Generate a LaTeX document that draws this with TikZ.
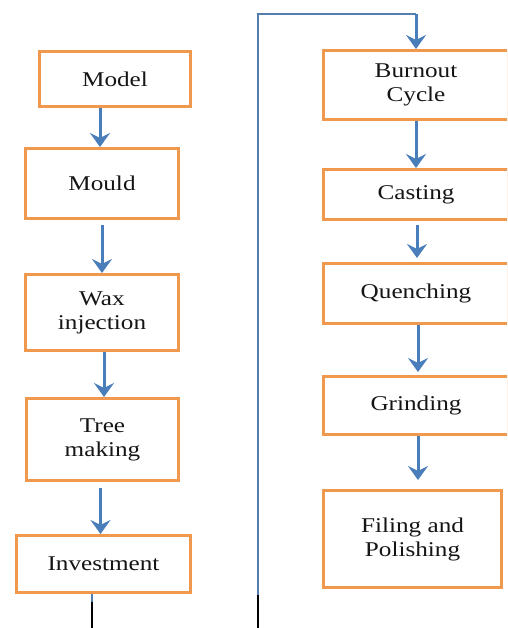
\documentclass[tikz,border=0pt]{standalone}
\usepackage{fontspec}
\setmainfont{Liberation Serif}[FakeStretch=1.2]
\usetikzlibrary{arrows.meta}

\definecolor{boxorange}{HTML}{F0994E}
\definecolor{flowblue}{HTML}{4A7EBB}
\definecolor{textdark}{HTML}{151515}

\tikzset{
  stage/.style={draw=boxorange, line width=3pt, fill=white, text=textdark,
    align=center, inner sep=0pt, font=\fontsize{21}{24}\selectfont},
  flow/.style={draw=flowblue, line width=3pt,
    -{Stealth[length=14pt, width=20pt, inset=5pt]}},
  loopline/.style={draw=flowblue!80!gray, line width=1.5pt}
}

\begin{document}
\begin{tikzpicture}[x=1pt, y=-1pt]
            \useasboundingbox (0,0) rectangle (507,628);
            \clip (0,0) rectangle (507,628);

            % left column
            \node[stage, minimum width=151pt, minimum height=55pt] (model) at (115,79) {Model};
            \node[stage, minimum width=153pt, minimum height=70pt] (mould) at (102,183.5) {Mould};
            \node[stage, minimum width=153pt, minimum height=76pt] (wax) at (102,312.5) {Wax\\injection};
            \node[stage, minimum width=152pt, minimum height=82pt] (tree) at (102.5,439.5) {Tree\\making};
            \node[stage, minimum width=174pt, minimum height=57pt] (invest) at (103.5,564) {Investment};

            % right column
            \node[stage, minimum width=185pt, minimum height=69pt] (burnout) at (416,85) {Burnout\\Cycle};
            \node[stage, minimum width=185pt, minimum height=50pt] (casting) at (416,194.5) {Casting};
            \node[stage, minimum width=185pt, minimum height=60pt] (quench) at (416,293.5) {Quenching};
            \node[stage, minimum width=185pt, minimum height=58pt] (grind) at (416,405.5) {Grinding};
            \node[stage, minimum width=178pt, minimum height=97pt] (filing) at (412.5,539) {Filing and\\Polishing};

            % arrows
            \draw[flow] ([xshift=-2pt]mould.north |- model.south) -- ([xshift=-2pt]mould.north);
            \draw[flow, shorten <=5pt] (mould.south) -- (wax.north);
            \draw[flow] ([xshift=2pt]wax.south) -- ([xshift=2pt]wax.south |- tree.north);
            \draw[flow, shorten <=6pt] ([xshift=-2pt]tree.south) -- ([xshift=-2pt]tree.south |- invest.north);

            \draw[flow] (burnout.south) -- (casting.north);
            \draw[flow, shorten <=4pt, shorten >=4pt] ([xshift=1pt]casting.south) -- ([xshift=1pt]quench.north);
            \draw[flow, shorten >=3pt] ([xshift=2pt]quench.south) -- ([xshift=2pt]grind.north);
            \draw[flow, shorten >=9pt] ([xshift=2pt]grind.south) -- ([xshift=2pt]grind.south |- filing.north);

            % loop line
            \coordinate (invout) at (92,628);
            \coordinate (loopin) at (258,628);
            \coordinate (looptop) at (258,14);
            \draw[loopline] (invest.south -| invout) -- (invout);
            \draw[black, line width=2pt] (92,602) -- (invout);
            \draw[loopline] (loopin) -- (looptop) -- (looptop -| burnout.north);
            \draw[black, line width=2pt] (258,595) -- (loopin);
            \draw[flow] (looptop -| burnout.north) -- (burnout.north);
        \end{tikzpicture}
\end{document}
